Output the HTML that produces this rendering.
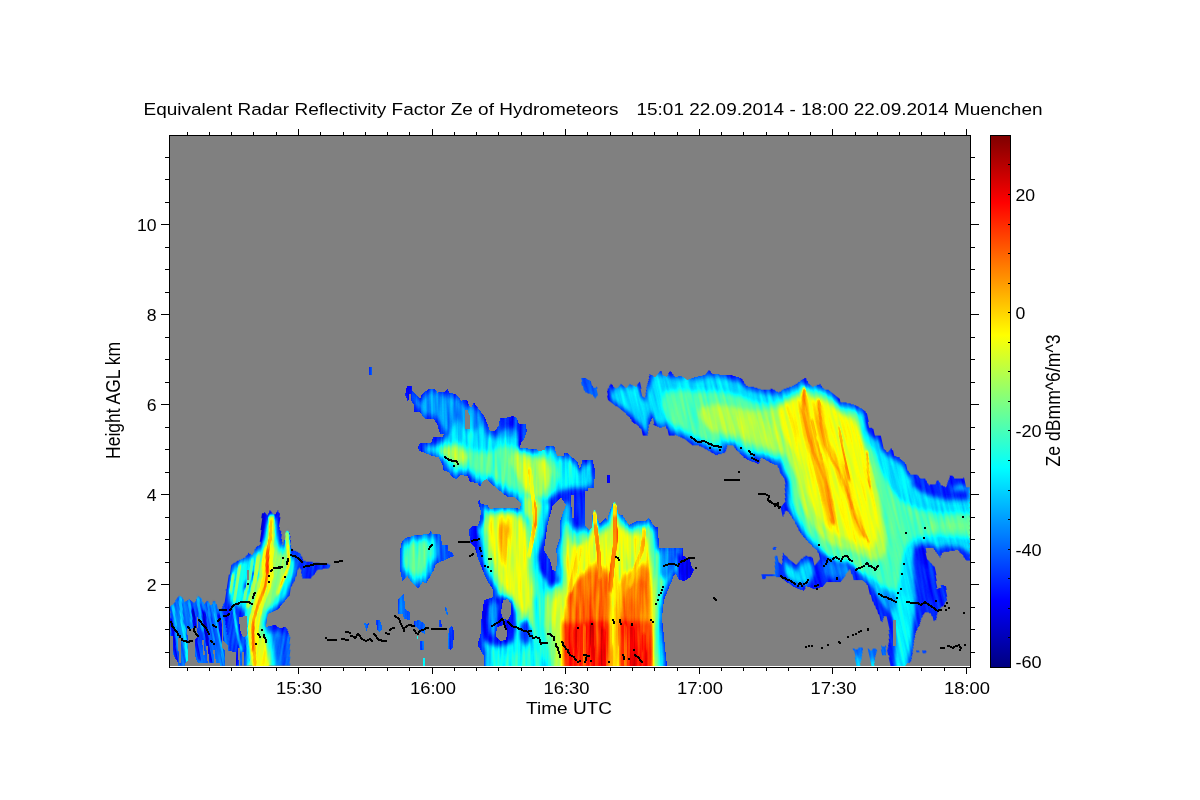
<!DOCTYPE html>
<html lang="en"><head><meta charset="utf-8"><title>Equivalent Radar Reflectivity Factor Ze of Hydrometeors</title>
<style>html,body{margin:0;padding:0;background:#fff}body{width:1200px;height:800px;overflow:hidden}svg{display:block}text{font-family:"Liberation Sans",Arial,Helvetica,sans-serif;fill:#000}</style>
</head><body>
<svg width="1200" height="800" viewBox="0 0 1200 800">
<defs>
<linearGradient id="jet" x1="0" y1="0" x2="0" y2="1"><stop offset="0.0000" stop-color="#800000"/><stop offset="0.0156" stop-color="#8f0000"/><stop offset="0.0312" stop-color="#9f0000"/><stop offset="0.0469" stop-color="#af0000"/><stop offset="0.0625" stop-color="#bf0000"/><stop offset="0.0781" stop-color="#cf0000"/><stop offset="0.0938" stop-color="#df0000"/><stop offset="0.1094" stop-color="#ef0000"/><stop offset="0.1250" stop-color="#ff0000"/><stop offset="0.1406" stop-color="#ff1000"/><stop offset="0.1562" stop-color="#ff2000"/><stop offset="0.1719" stop-color="#ff3000"/><stop offset="0.1875" stop-color="#ff4000"/><stop offset="0.2031" stop-color="#ff5000"/><stop offset="0.2188" stop-color="#ff6000"/><stop offset="0.2344" stop-color="#ff7000"/><stop offset="0.2500" stop-color="#ff8000"/><stop offset="0.2656" stop-color="#ff8f00"/><stop offset="0.2812" stop-color="#ff9f00"/><stop offset="0.2969" stop-color="#ffaf00"/><stop offset="0.3125" stop-color="#ffbf00"/><stop offset="0.3281" stop-color="#ffcf00"/><stop offset="0.3438" stop-color="#ffdf00"/><stop offset="0.3594" stop-color="#ffef00"/><stop offset="0.3750" stop-color="#ffff00"/><stop offset="0.3906" stop-color="#efff10"/><stop offset="0.4062" stop-color="#dfff20"/><stop offset="0.4219" stop-color="#cfff30"/><stop offset="0.4375" stop-color="#bfff40"/><stop offset="0.4531" stop-color="#afff50"/><stop offset="0.4688" stop-color="#9fff60"/><stop offset="0.4844" stop-color="#8fff70"/><stop offset="0.5000" stop-color="#80ff80"/><stop offset="0.5156" stop-color="#70ff8f"/><stop offset="0.5312" stop-color="#60ff9f"/><stop offset="0.5469" stop-color="#50ffaf"/><stop offset="0.5625" stop-color="#40ffbf"/><stop offset="0.5781" stop-color="#30ffcf"/><stop offset="0.5938" stop-color="#20ffdf"/><stop offset="0.6094" stop-color="#10ffef"/><stop offset="0.6250" stop-color="#00ffff"/><stop offset="0.6406" stop-color="#00efff"/><stop offset="0.6562" stop-color="#00dfff"/><stop offset="0.6719" stop-color="#00cfff"/><stop offset="0.6875" stop-color="#00bfff"/><stop offset="0.7031" stop-color="#00afff"/><stop offset="0.7188" stop-color="#009fff"/><stop offset="0.7344" stop-color="#008fff"/><stop offset="0.7500" stop-color="#0080ff"/><stop offset="0.7656" stop-color="#0070ff"/><stop offset="0.7812" stop-color="#0060ff"/><stop offset="0.7969" stop-color="#0050ff"/><stop offset="0.8125" stop-color="#0040ff"/><stop offset="0.8281" stop-color="#0030ff"/><stop offset="0.8438" stop-color="#0020ff"/><stop offset="0.8594" stop-color="#0010ff"/><stop offset="0.8750" stop-color="#0000ff"/><stop offset="0.8906" stop-color="#0000ef"/><stop offset="0.9062" stop-color="#0000df"/><stop offset="0.9219" stop-color="#0000cf"/><stop offset="0.9375" stop-color="#0000bf"/><stop offset="0.9531" stop-color="#0000af"/><stop offset="0.9688" stop-color="#00009f"/><stop offset="0.9844" stop-color="#00008f"/><stop offset="1.0000" stop-color="#000080"/></linearGradient>
<clipPath id="pc"><rect x="170" y="136" width="800" height="530"/></clipPath>
</defs>
<rect x="0" y="0" width="1200" height="800" fill="#fff"/>
<rect x="170" y="136" width="800" height="530" fill="#808080"/>
<g clip-path="url(#pc)" shape-rendering="crispEdges">
<filter id="bA" x="-300" y="100" width="1800" height="600" filterUnits="userSpaceOnUse" color-interpolation-filters="sRGB"><feGaussianBlur in="SourceGraphic" stdDeviation="1.8 2.8" result="b"/><feComponentTransfer in="b" result="c"><feFuncA type="linear" slope="60" intercept="0"/></feComponentTransfer><feComposite in="c" in2="SourceGraphic" operator="in"/></filter>
<filter id="bB" x="-300" y="100" width="1800" height="600" filterUnits="userSpaceOnUse" color-interpolation-filters="sRGB"><feGaussianBlur in="SourceGraphic" stdDeviation="0.7 1.6"/></filter>
<filter id="cm0" x="-300" y="100" width="1800" height="600" filterUnits="userSpaceOnUse" color-interpolation-filters="sRGB"><feTurbulence type="fractalNoise" baseFrequency="0.26 0.02" numOctaves="2" seed="7" result="t"/><feColorMatrix in="t" type="matrix" values="1 0 0 0 0 1 0 0 0 0 1 0 0 0 0 0 0 0 0 1" result="n"/><feComposite in="SourceGraphic" in2="n" operator="arithmetic" k1="0" k2="1" k3="0.14" k4="-0.07" result="s"/><feComposite in="s" in2="SourceGraphic" operator="in" result="s2"/><feComponentTransfer in="s2"><feFuncR type="table" tableValues="0 0 0 0 0.5 1 1 1 0.5"/><feFuncG type="table" tableValues="0 0 0.5 1 1 1 0.5 0 0"/><feFuncB type="table" tableValues="0.5 1 1 1 0.5 0 0 0 0"/></feComponentTransfer></filter>
<filter id="cm1" x="-300" y="100" width="1800" height="600" filterUnits="userSpaceOnUse" color-interpolation-filters="sRGB"><feTurbulence type="fractalNoise" baseFrequency="0.26 0.02" numOctaves="2" seed="7" result="t"/><feColorMatrix in="t" type="matrix" values="1 0 0 0 0 1 0 0 0 0 1 0 0 0 0 0 0 0 0 1" result="n"/><feComposite in="SourceGraphic" in2="n" operator="arithmetic" k1="0" k2="1" k3="0.2" k4="-0.1" result="s"/><feComposite in="s" in2="SourceGraphic" operator="in" result="s2"/><feComponentTransfer in="s2"><feFuncR type="table" tableValues="0 0 0 0 0.5 1 1 1 0.5"/><feFuncG type="table" tableValues="0 0 0.5 1 1 1 0.5 0 0"/><feFuncB type="table" tableValues="0.5 1 1 1 0.5 0 0 0 0"/></feComponentTransfer></filter>
<g transform="matrix(1 0 0.2 1 0 0)" filter="url(#cm1)">
<g filter="url(#bA)">
<polygon fill="#393939" points="36.8,666 48.6,607 53.4,603 58.6,597 60.8,596 62.6,597 64.6,602 66.8,601 69.7,599 71.8,601 73.2,604 76,600 79.3,596 81.4,598 83.2,604 85.6,602 87.3,601 88.4,603 89.8,606 92.6,602 94.3,601 95.4,603 96.8,611 100.4,608 103.4,603 106,600 109.6,612 110,630 112,640 106.8,666"/>
</g>
<g filter="url(#bB)" fill="none" stroke-linejoin="round" stroke-linecap="round">
<polyline stroke="#555555" stroke-width="3" points="60.4,598 58,620 57,645 54.8,666"/>
<polyline stroke="#5e5e5e" stroke-width="2.5" points="58.8,626 57,650 54.8,666"/>
<polyline stroke="#4f4f4f" stroke-width="3" points="78.4,598 77,615 77,630"/>
<polyline stroke="#4c4c4c" stroke-width="2.5" points="68.8,601 67.6,622"/>
<polyline stroke="#4c4c4c" stroke-width="2.5" points="87.4,603 86,620 86,640"/>
<polyline stroke="#4c4c4c" stroke-width="2.5" points="93.4,603 92,625 92,650 90.8,666"/>
<polyline stroke="#4c4c4c" stroke-width="2.5" points="51.8,606 50,630 48,650"/>
<polyline stroke="#1c1c1c" stroke-width="3" points="47,620 45,645 43.8,666"/>
<polyline stroke="#1c1c1c" stroke-width="3" points="71,610 68,640 68,660"/>
<polyline stroke="#1c1c1c" stroke-width="3" points="81.6,612 79,640 78.6,662"/>
<polyline stroke="#1c1c1c" stroke-width="3" points="96,615 94,640"/>
</g>
</g>
<g transform="matrix(1 0 -0.15 1 0 0)" filter="url(#cm1)">
<g filter="url(#bA)">
<polygon fill="#2a2a2a" points="315,600 314.5,590 314.65,581 315.8,572 316.6,564 321.65,561 328.62,557.5 331.7,553 335.75,555 338.05,547 341.75,545 340.5,530 339.1,514 341.27,512.5 344.9,516 346.5,510 350.1,514 352.25,515 354.5,510 357.25,515 358.75,529 360.65,531 363.15,541 364.9,546 365.7,538 366.59,530.6 370.1,534 373.12,547.5 375,550 382.95,553 387.9,561 402.45,563 415.26,564.4 415.2,568 403,570 400,575 396.85,579 389.35,579 386.5,570 383.88,567.5 382,580 379.12,587.5 379.25,595 369,610 360.1,614 360.05,627 363.9,626 368.75,625 374.2,628 380.05,627 385.4,636 389.9,666 331.9,666 324,640 315.8,612"/>
<polygon fill="#606060" points="318.7,598 317.6,584 319.2,568 324.45,563 331.85,559 338.8,552 344.2,548 343.5,530 343.7,518 353.7,518 356.8,532 360.75,545 366.2,548 367.4,536 371.2,548 373.4,556 379.3,562 380.1,574 376.9,586 375.4,596 367.05,607 359.65,611 357.75,625 362.8,632 379.1,634 383.75,645 386.9,666 343.9,666 334,640 324.25,615"/>
<polygon fill="#828282" points="342,600 341.75,585 343.5,570 345.4,556 346,540 345.6,524 352.3,522 357,540 360.8,552 367.4,556 368.75,545 373,560 373.8,572 370.6,584 366.4,596 360.9,606 355.8,612 355.75,625 362,640 368.25,655 371.9,666 347.9,666 345,640 343,620"/>
<polygon fill="#222222" points="331.45,583 334.15,581 336.9,586 335.65,591 332.5,590"/>
<polygon fill="#222222" points="337.95,573 342.65,571 345.4,576 343,580 338.7,578"/>
<polygon fill="#1c1c1c" points="339.1,514 341.27,512.5 344.4,516 345.5,530 345,540 342.75,545 340.5,530"/>
<polygon fill="#1c1c1c" points="352.25,515 354.5,510 357.25,515 358.75,529 355.3,522"/>
<polygon fill="#393939" points="367.1,634 385.4,636 389.9,666 375.9,666"/>
<polygon fill="#2d2d2d" points="316.3,602 326.6,604 337.8,612 345,640 346.9,666 331.9,666 324,640"/>
</g>
<g filter="url(#bB)" fill="none" stroke-linejoin="round" stroke-linecap="round">
<polyline stroke="#999999" stroke-width="6" points="349.2,518 352.05,537 351.7,548"/>
<polyline stroke="#9c9c9c" stroke-width="11" points="351.5,550 351.8,562 354.25,575 353.55,587 350.7,598 348.7,608 347.5,620 347.8,632 351.75,645 357.9,666"/>
<polyline stroke="#999999" stroke-width="6" points="358,640 362.25,655 365.9,666"/>
<polyline stroke="#b8b8b8" stroke-width="3.2" points="349.15,521 351.15,537 350.5,550 351.3,562 353.75,575 353.12,587.5 350.62,597.5 348.55,607 346.7,618 347,630 350.75,645 354.9,666"/>
<polyline stroke="#c9c9c9" stroke-width="3.2" points="350.5,550 351.3,562 353.3,572"/>
<polyline stroke="#c6c6c6" stroke-width="2.5" points="346.3,622 350.5,650"/>
<polyline stroke="#8e8e8e" stroke-width="4" points="366.95,533 370.5,550 372.75,560 372.5,570 370.62,577.5 368.12,587.5 366.45,593"/>
<polyline stroke="#aaaaaa" stroke-width="2" points="369.75,545 372.75,560 372.5,570 370.62,577.5 368.75,585"/>
<polyline stroke="#808080" stroke-width="3" points="324.9,566 324.75,585 324.3,602"/>
<polyline stroke="#808080" stroke-width="3" points="336,560 336,580 334,600"/>
<polyline stroke="#7a7a7a" stroke-width="3" points="319.25,575 319.8,592"/>
<polyline stroke="#888888" stroke-width="4" points="342.4,556 342.25,575 340.8,592 338.9,606"/>
<polyline stroke="#555555" stroke-width="2.5" points="323.6,604 329.75,625 338.5,650"/>
<polyline stroke="#555555" stroke-width="2.5" points="337.5,610 343,640 348.3,662"/>
</g>
</g>
<g transform="matrix(1 0 0 1 0 0)" filter="url(#cm1)">
<g filter="url(#bA)">
<polygon fill="#282828" points="405,395 407,386 412,386 412.5,391 417,396 420,399 422,394 429,389 435,389 437.5,392.5 445,392 447.5,389 449,392.5 455,394 459,397.5 461,400.6 467,400 469,405 471,408 474,402 476,405.6 480,410.6 484,416 487.5,424 490,431 495,431 499,425 500,418 505,418 512.5,416 517,418 519,424 525.6,424.4 527,431 524,439 521,443 520,448 536,449 540,452.5 544,451 546,445.6 554,445.6 556,452.5 557.5,456 564,456 564.4,453 567.5,453 572.5,457.5 577.5,462.5 580,469 582.5,460 592.5,460 595,470 594,487.5 588,488 587.5,490.6 584,491 585,500 585,526 589,530 592,527.5 592.5,515 594.6,510 597,517.5 600,524 605,518 607.5,520 609,513 612.5,504 614.6,502 617,506 618,514 622.5,515 625.6,520 629,525 632.5,523 637.5,521 646,520.6 648,518 650.6,520.6 654,526 658,527.5 659,547.5 682.5,547.5 683,556 690,559 691,565 694,570 690,577.5 684,581 679,580 676,574 674,575 672,581 669,587.5 664,600 662,618 667,666 484,666 484,656 481,651 477.5,645 480.6,633.5 481,621 483,613.5 488,608.5 493,606 492.5,588.5 489,583.5 485,576 481,566 477.5,557.5 475,547.5 470,542.5 469,530 472.5,526 477.5,526 480,520 481,511 478,502.5 479,499 481,504 487.5,505 490,509 499,507.5 512.5,507.5 520,509 521,504 515,497.5 507.5,497 497.5,489 490,482.5 485,477.5 480,487 477.5,483 470,482 467.5,476 460,475 456,479 451,476 449,472.5 443,470 442.5,465 439,457.5 432.5,456 425,453 419,451 418,447 420,443 431,443 433,437.5 443,437 444,434 440,434 437.5,425 434,419 425,419 420,412 414,412 414,405 411,400 407.5,400.6"/>
<polygon fill="#474747" points="410,390 414,397 420,403 424,397 430,392 444,395 456,398 462,404 468,408 474,407 480,414 485,422 489,434 496,436 503,430 512,428 518,432 518,440 516,446 500,446 480,440 460,434 446,432 440,422 436,416 426,415 418,408"/>
<polygon fill="#5b5b5b" points="423,447 434,446 445,440 452,428 458,418 466,432 476,430 482,424 487,436 495,440 503,438 512,436 518,440 517,446 519,451 538,452 546,449 553,449 558,459 566,457 574,463 580,472 584,464 591,464 592,485 584,488 572,488 562,490 556,494 548,500 540,503 528,502 520,500 512,494 504,492 496,485 488,478 482,482 474,479 468,473 460,472 454,474 447,468 444,460 436,454 426,451"/>
<polygon fill="#747474" points="438,449 448,444 458,443 466,448 478,452 490,452 502,446 514,446 524,452 536,455 548,456 556,464 560,475 556,488 548,497 540,500 530,498 522,494 512,488 502,484 492,476 480,474 468,468 456,466 448,460 441,455"/>
<polygon fill="#8b8b8b" points="441,450 449,446 458,446 464,452 470,458 464,462 455,462 447,458"/>
<polygon fill="#8b8b8b" points="512,452 522,454 534,458 546,460 552,470 550,484 544,494 536,498 528,494 522,486 516,474 510,462"/>
<polygon fill="#939393" points="520,462 528,460 534,466 536,480 533,492 527,492 522,480"/>
<polygon fill="#5e5e5e" points="522,494 540,498 550,504 547,518 545,530 542,548 541,562 546,578 550,590 540,596 528,590 524,570 523,545 522,520"/>
<polygon fill="#888888" points="524,496 538,499 541,505 539,520 535,540 532,556 530,570 525,570 524,545 523.5,520"/>
<polygon fill="#252525" points="541,545 546,530 548,518 553,506 561,497 564,500 558,510 552,522 550,535 547,550 552,562 554,572 559,573 560,580 552,583 545,579 539,569 538,556"/>
<polygon fill="#282828" points="562,491 585,491 585,526 574,527 571,510 566,505"/>
<polygon fill="#4c4c4c" points="563,503 570,503 573,527 565,530 562,520"/>
<polygon fill="#5b5b5b" points="482,507 488,510 500,510 514,510 522,512 530,520 534,540 536,560 540,580 542,600 540,630 536,655 534,666 490,666 487,655 484,645 486,630 487,618 494,610 496,590 492,582 488,574 484,564 481,555 478,545 474,540 473,532 476,529 481,527 484,518"/>
<polygon fill="#7d7d7d" points="486,513 500,512 514,512 523,516 529,526 532,545 534,565 538,585 538,610 534,630 528,640 520,630 512,612 504,598 498,590 493,578 489,566 486,552 484,540 483,528"/>
<polygon fill="#999999" points="490,516 502,514 514,515 521,520 526,532 528,550 529,568 532,586 531,604 526,616 520,610 514,598 506,590 500,582 496,570 492,555 489,540 488,526"/>
<polygon fill="#adadad" points="499,525 505,521 509,528 508,545 506,560 503,568 500,560 499,545"/>
<polygon fill="#222222" points="470,528 477,527 480,540 482,556 478,557 474,546 470,542"/>
<polygon fill="#252525" points="484,600 494,597 504,596 512,600 516,612 516,628 513,642 505,647 495,646 486,642 482,632 482,615"/>
<polygon fill="#3e3e3e" points="488,606 495,600 500,606 498,622 494,636 489,634 486,620"/>
<polygon fill="#5e5e5e" points="486,650 500,646 515,642 528,640 545,640 560,650 560,666 486,666"/>
<polygon fill="#666666" points="500,656 530,650 550,652 556,666 500,666"/>
<polygon fill="#333333" points="520,622 528,620 532,630 531,642 524,645 520,638"/>
<polygon fill="#555555" points="560,582 557,573 558,560 557,550 561,538 561,522 565,512 569,507 572,528 586,529 590,533 594,528 594.5,513 597,520 600,527 605,521 608,523 610,514 613,506 614.6,505 616,508 617,516 622,517 625,522 629,528 633,526 638,524 646,523.5 648,521 650,523.5 653,528.5 656,530 657,549 680,550 681,558 686,561 688,567 690,570 687,575 683,578 680,577 677,571 673,572 670,579 667,586 662,598 660.5,620 664.5,666 540,666 546,620 552,596"/>
<polygon fill="#777777" points="556,640 560,600 562,575 561,556 563,540 566,524 570,522 574,534 588,534 593,530 595,516 598,528 604,526 609,524 612,512 614.6,508 616,516 620,520 626,527 632,530 640,527 648,526 653,532 655,552 668,553 672,560 668,572 664,584 661,600 659,625 659,666 552,666"/>
<polygon fill="#999999" points="561,666 562,630 564,600 566,580 565,560 567,542 569,530 572,545 580,545 590,538 594,522 597,535 604,532 610,528 613,514 614.6,511 616,524 622,528 628,534 636,534 644,534 648,540 650,556 653,570 654,585 654,600 654,625 656,666"/>
<polygon fill="#666666" points="533,600 542,590 552,586 562,582 563,666 548,666 540,650 533,635"/>
<polygon fill="#808080" points="544,596 554,590 563,585 564,666 553,666 548,645 544,625"/>
<polygon fill="#969696" points="552,600 563,590 564,666 558,666 555,640 552,620"/>
<polygon fill="#b8b8b8" points="563,666 563,640 565,610 570,592 578,578 588,568 596,562 600,568 606,568 609,575 609,666"/>
<polygon fill="#b8b8b8" points="620,666 620,582 624,574 630,571 638,566 645,563 649,572 651,590 651,620 652,666"/>
<polygon fill="#a7a7a7" points="609,578 620,582 620,666 609,666"/>
<polygon fill="#c4c4c4" points="565,621 566,600 572,585 582,575 596,570 606,575 609,600 609,621"/>
<polygon fill="#c1c1c1" points="621,621 622,600 628,587 639,578 646,582 649,600 650,621"/>
<polygon fill="#d7d7d7" points="563,622 609,621 609,666 563,666"/>
<polygon fill="#d7d7d7" points="620,621 652,621 652,666 620,666"/>
<polygon fill="#b2b2b2" points="610,624 619,624 619,666 610,666"/>
<polygon fill="#3e3e3e" points="660,549 676,549 676,565 670,575 664,580 660,575"/>
<polygon fill="#1f1f1f" points="676,552 684,556 690,562 692,570 688,577 682,579 678,572"/>
<polygon fill="#333333" points="400,570 400.6,544 404,539 407.5,537.5 416,535 429,534 430.6,531 432.5,534 439,534 441,536 442,545 447.5,545 447.5,550 452.5,553 454,556 450,557.5 442.5,561 436,564 434,570 431,575 426,583.5 422.5,582 418,589 411,582 407.5,576 402.5,581"/>
<polygon fill="#5b5b5b" points="402,568 402.5,546 406,541 416,538 428,537 436,538 438,548 438,558 432,563 430,572 425,580 420,580 416,584 410,578 406,573"/>
<polygon fill="#747474" points="405,565 406,548 412,542 422,541 430,543 432,554 428,562 424,572 418,576 412,574 408,570"/>
<polygon fill="#333333" points="445,607 447,608 448,615 446,614"/>
<polygon fill="#333333" points="414,621 419,620 425,624 425,634 421,632 418,628 414,626"/>
<polygon fill="#333333" points="439,620 441,620 442,627 439,627"/>
<polygon fill="#2d2d2d" points="449,628 452,625 454,632 453,648 450,650 448,640"/>
<polygon fill="#393939" points="420,641 424,641 424,650 420,650"/>
<polygon fill="#5e5e5e" points="423,658 425,658 425,666 423,666"/>
<polygon fill="#282828" points="607,475 610,475 610,482.5 607,482.5"/>
<polygon fill="#2a2a2a" points="369,367 372,367 372,375 369,375"/>
<polygon fill="#393939" points="364,623 366.5,631 369,623 367,624"/>
<polygon fill="#393939" points="376,620 380,620 382.5,628 380,632 377,630"/>
<polygon fill="#393939" points="398,600 401,596 404,593 405,609 410,612 410,620 404,619 403,614 398,614"/>
<polygon fill="#5b5b5b" points="416.5,636 417.5,636 417.5,639 416.5,639"/>
<polygon fill="#333333" points="448,633 450,633 450,649 448,649"/>
</g>
<g filter="url(#bB)" fill="none" stroke-linejoin="round" stroke-linecap="round">
<polyline stroke="#a2a2a2" stroke-width="4" points="530,470 532,490 534,505 535,522 532,540 529,556"/>
<polyline stroke="#b8b8b8" stroke-width="2.2" points="535,502 536,512 535.5,527"/>
<polyline stroke="#a2a2a2" stroke-width="4" points="594.6,513 595.5,524"/>
<polyline stroke="#b8b8b8" stroke-width="4" points="595.5,526 597,540 599,555 600,577"/>
<polyline stroke="#a4a4a4" stroke-width="4" points="614.6,505 615,516"/>
<polyline stroke="#bebebe" stroke-width="4.5" points="615,518 615.6,540 612.5,565 610,590"/>
<polyline stroke="#a2a2a2" stroke-width="4" points="644,530 643.5,538"/>
<polyline stroke="#b2b2b2" stroke-width="4" points="643.5,540 642,550 636,566 630,585"/>
<polyline stroke="#a4a4a4" stroke-width="5" points="580,548 576,566 570,590"/>
<polyline stroke="#a7a7a7" stroke-width="6" points="614,596 615,625 615.5,645 616,666"/>
<polyline stroke="#e3e3e3" stroke-width="4" points="592,625 593,666"/>
<polyline stroke="#e3e3e3" stroke-width="5" points="603,630 604,666"/>
<polyline stroke="#e0e0e0" stroke-width="4" points="575,630 576,666"/>
<polyline stroke="#e3e3e3" stroke-width="5" points="632,628 633,666"/>
<polyline stroke="#e0e0e0" stroke-width="4" points="644,635 645,666"/>
<polyline stroke="#c4c4c4" stroke-width="3" points="584,625 585,666"/>
<polyline stroke="#c4c4c4" stroke-width="3" points="625,625 626,666"/>
<polyline stroke="#a2a2a2" stroke-width="4" points="618,560 616,585 614,605"/>
</g>
</g>
<g transform="matrix(1 0 0.22 1 0 0)" filter="url(#cm0)">
<g filter="url(#bA)">
<polygon fill="#393939" points="497.84,378 501.84,378 507.18,381 507.64,388 511.86,387 510.38,396 507.22,399 506.1,395 498.76,392 497.3,385"/>
<polygon fill="#282828" points="521.92,389 526.52,384 530.42,389 536.52,384 540.64,388 545.52,384 550.86,387 556.18,381 554.88,396 557.44,398 562.3,385 567.72,374 571.95,377.5 579.47,370.6 581.62,379 589.07,370.6 591.95,377.5 598.37,375.6 603.9,380 612.06,377 622.5,375 627.6,370 630.22,374 642.5,375 651.37,375.6 659.12,379 661.08,386 668.86,387 676.7,390 686.92,389 692.65,392.5 698.42,389 710.3,385 716.18,381 722.44,378 724.52,384 727.36,387 735.52,384 738.42,389 743.2,390 748.1,395 751.44,398 752.45,402.5 760.34,403 766.77,405.6 772.52,409 776.42,414 774.95,427.5 778.45,427.5 779.08,436 785.17,435.6 784.55,447.5 787.95,452.5 793.44,448 793.68,456 798.46,457 801.08,461 803.36,462 804.1,470 806.5,475 813,475 814.84,478 819.62,479 822.3,485 828.52,484 832.4,480 834.3,485 838.75,487.5 845.28,476 848,475 849.62,479 858.84,478 858.75,487.5 862.75,487.5 846.58,561 842.8,560 840.4,555 836.5,550 820.95,552.5 817.35,557.5 812.05,547.5 804.55,547.5 803.35,557.5 808.2,565 809.48,566 809.83,573.5 806.98,591 810.76,592 812.3,585 817.08,586 815,600 810.9,605 806.13,608.5 802.86,612 799.6,620 797.38,621 796.03,613.5 791.36,612 786.98,616 781.28,626 776.96,632 772.98,641 768.73,653.5 765.36,662 761.53,663.5 758.48,666 743.48,666 744.68,656 743.56,652 747.76,642 751.5,625 750.48,616 748.48,616 744.83,623.5 743.08,611 740.28,601 738.98,591 738.8,585 734.9,580 726.4,580 724.82,569 718.28,576 711.85,582.5 697.85,582.5 693.36,587 684.42,589 677.08,586 673.98,591 665.75,587.5 657.18,581 653.06,577 639.28,576 638.22,579 635.12,579 634.72,574 648.72,574 653.58,561 657.7,565 661.34,553 663.68,556 667.58,561 671.7,565 678.02,559 683.68,556 689.85,557.5 690.48,566 695.58,561 697.35,557.5 696.28,551 690.32,544 685.75,537.5 682.85,532.5 680.05,522.5 676.92,514 673.8,510 668.65,517.5 669.35,507.5 674.45,502.5 679.4,480 676.05,472.5 675.2,465 670.42,464 666.08,461 660.35,457.5 656.92,464 648.58,461 643.35,457.5 638.28,451 634.6,445 629.6,445 625.34,453 615.9,455 609.78,451 601.88,446 594.6,445 588.42,439 579.3,435 573.08,436 572.28,426 565.84,428 560.5,425 560.65,417.5 555.5,425 551.58,436 547.08,436 546.62,429 544,425 539.55,422.5 538.15,417.5 532.08,411 526.68,406 519.5,400"/>
<polygon fill="#585858" points="526.2,390 534.64,388 544.64,388 553.08,386 553.44,398 557.78,401 563.64,388 568.84,378 577.5,375 585.06,377 596.62,379 611.4,380 627.28,376 641.84,378 655.96,382 660.42,389 675.54,393 691.1,395 704.2,390 718.74,383 722.86,387 734.64,388 744.88,396 750.9,405 765.24,408 772.92,414 771.4,430 775.64,438 782.2,440 782,450 787.68,456 794.8,460 800.48,466 803.28,476 813.96,482 827.64,488 842.2,490 853.52,484 862.2,490 848.34,553 839.66,547 824.88,546 817.22,549 812.32,544 802.32,544 793.44,548 788.36,562 786.4,580 784.88,596 780.36,612 774.4,630 768.44,648 762.36,662 758.48,666 748.48,666 754.2,640 757.16,622 755.36,612 750.68,606 746.66,597 743.08,586 737.06,577 732.16,572 728.14,563 722.58,561 714.58,561 707.24,558 702.12,554 698.78,551 692.54,543 687.3,535 682.72,524 678.92,514 676.68,506 682.4,480 679.16,472 678.36,462 669.02,459 659.9,455 649.46,457 642.56,452 636.54,443 628.54,443 622.78,451 613.22,449 604.54,443 595.98,441 590.08,436 580.96,432 574.96,432 573.94,423 566.5,425 562.38,421 561.36,412 555.6,420 550.96,432 548.96,432 548.28,426 543.38,421 539.92,414 534.24,408 528.34,403 523.44,398"/>
<polygon fill="#747474" points="577.76,392 594.2,390 613.76,392 633.76,392 652.88,396 663.56,402 677.12,404 691.56,402 705.1,395 718.86,387 725.76,392 735.76,392 744,400 752.02,409 765.36,412 769.6,420 767.52,434 770.32,444 775,450 776.36,462 779.28,476 784.2,490 791.56,502 807.8,510 831.92,514 856.92,514 851.64,538 832.08,536 812.3,535 797.64,538 785.88,546 778.8,560 772.84,578 765.76,592 758.64,588 751.52,584 744.84,578 738.16,572 731.04,568 724.36,562 714.36,562 705.68,556 701.44,548 695.2,540 690.96,532 687.16,522 683.36,512 682,500 685.4,480 682.6,470 681.24,458 669.9,455 655.78,451 645.44,448 639.2,440 627.2,440 614.32,444 603.64,438 592.96,432 584.28,426 576.72,424 574.04,418 572.9,405"/>
<polygon fill="#8b8b8b" points="610.24,408 626.12,404 640.68,406 657.8,410 674.8,410 690.68,406 704.22,399 717.54,393 724.66,397 734.66,397 742.9,405 750.92,414 762.26,417 765.5,425 763.2,440 767,450 768.36,462 769.84,478 770.88,496 770.48,516 769.08,536 764.56,552 756.8,560 746.8,560 738.12,554 729,550 719.44,548 710.32,544 703.86,537 697.84,528 694.04,518 690.68,506 688.32,494 690.84,478 689.04,468 685.9,455 673,450 659.88,446 648.76,442 642.08,436 628.52,434 616.96,432 610.72,424 607.7,415"/>
<polygon fill="#7d7d7d" points="815.6,520 835.38,521 853.16,522 850.96,532 833.18,531 813.4,530"/>
<polygon fill="#9c9c9c" points="693.12,404 705.22,399 717.32,394 724.22,399 734,400 742.68,406 750.92,414 759.6,420 763.84,428 765.2,440 766.56,452 767.48,466 766.3,485 765.12,504 763.16,522 758.2,540 751,550 741.44,548 732.76,542 723.64,538 716.52,534 710.06,527 704.26,517 700.9,505 698.98,491 699.28,476 697.92,464 694.56,452 689.2,440 686.28,426 687.36,412"/>
<polygon fill="#909090" points="643.04,418 658.48,416 672.6,420 680.84,428 683.2,440 672.32,444 659.2,440 648.52,434 641.84,428"/>
<polygon fill="#b0b0b0" points="714.76,392 721.76,392 716.5,425 720.36,462 722.44,498 721.16,522 714.72,524 712,500 711.04,468 707.96,432 708.8,410"/>
<polygon fill="#adadad" points="727.56,402 733.56,402 731.2,440 739.7,465 743.76,492 748.3,535 741.64,538 736,500 730.6,470 723.88,446 723.5,425"/>
<polygon fill="#b5b5b5" points="714.36,462 722.8,460 724.4,480 722.9,505 716.24,508 714.2,490"/>
<polygon fill="#5e5e5e" points="765.44,598 773.32,594 779,600 775.6,620 769.2,640 761.8,660 753.48,666 754,650 760.5,625"/>
<polygon fill="#444444" points="750.2,590 759.76,592 764,600 759.36,612 753.8,610 750,600"/>
<polygon fill="#222222" points="794.88,546 804.88,546 804.24,558 805.48,566 797.48,566 794.24,558"/>
<polygon fill="#282828" points="800.2,590 816.86,587 815,600 806.24,608 799.36,612 797.12,604"/>
<polygon fill="#282828" points="806.84,478 823.08,486 842.2,490 860.2,490 858,500 835,500 816.32,494 805.08,486"/>
<polygon fill="#282828" points="695.58,561 701.24,558 703.48,566 698.16,572 694.6,570"/>
<polygon fill="#414141" points="700.36,562 708.36,562 717.92,564 725.48,566 722.16,572 714.84,578 700.84,578 698.16,572"/>
<polygon fill="#555555" points="660.36,562 665.48,566 670.6,570 677.92,564 684.8,560 687.92,564 687.72,574 681.96,582 675.52,584 669.52,584 662.4,580 658.72,574"/>
<polygon fill="#393939" points="710.44,648 713,650 716.44,648 720.44,648 717.68,656 713.48,666 709.48,666 710.68,656"/>
<polygon fill="#5b5b5b" points="712.68,656 714.68,656 712.98,666 709.98,666"/>
<polygon fill="#393939" points="725.44,648 727.78,651 731.44,648 734,650 730.24,658 727.48,666 724.48,666 725.46,657"/>
<polygon fill="#5b5b5b" points="726.74,658 728.74,658 727.48,666 724.48,666"/>
<polygon fill="#393939" points="739.1,645 741.66,647 744.1,645 741.9,655 737.9,655"/>
<polygon fill="#333333" points="773,650 776,650 775.45,652.5 772.45,652.5"/>
<polygon fill="#333333" points="779.28,651 783,650 782.34,653 778.62,654"/>
<polygon fill="#333333" points="652.66,547 655.66,547 655,550 652,550"/>
<polygon fill="#393939" points="652.68,556 654.68,556 655.48,566 653.28,576 648.28,576"/>
<polygon fill="#333333" points="634.72,574 639.32,574 638.22,579 634.62,579"/>
</g>
<g filter="url(#bB)" fill="none" stroke-linejoin="round" stroke-linecap="round">
<polyline stroke="#bbbbbb" stroke-width="3.2" points="718.92,389 712.36,412 712.4,430 713.56,452 716.48,466 719.4,480 718.66,497 718.36,512 717.94,523"/>
<polyline stroke="#b8b8b8" stroke-width="2.8" points="730.78,401 727.5,425 727.32,444 730.8,460 735.6,470 738.08,486 740,500 741.82,519 746.08,536"/>
<polyline stroke="#b5b5b5" stroke-width="2.4" points="744.95,427.5 744,450 743.7,465 743.4,480"/>
<polyline stroke="#b0b0b0" stroke-width="2.5" points="767.56,452 764.6,470 762.86,487"/>
<polyline stroke="#b0b0b0" stroke-width="2.5" points="719.6,420 719.2,440 720.8,460"/>
<polyline stroke="#b2b2b2" stroke-width="2.5" points="741.58,511 745.28,526 749.76,542"/>
</g>
</g>
<g fill="#808080" stroke="none">
<polygon points="239,617 247,616 247,636 243,637 240,630"/>
<polygon points="246.5,570 248.5,570 248.5,580 246.5,580"/>
<polygon points="170,636 173,636 173.5,655 178,663 178,666 170,666"/>
<polyline fill="none" stroke="#808080" stroke-width="2.5" points="179.5,638 180,663"/>
<polygon points="187,629 197,628 198,637 194.5,640 194.5,655 198,663 202,663 202,666 185,666 185,663 188.5,660 188,640"/>
<polygon points="202,663 220,663 220,666 202,666"/>
<polygon points="221.7,620 223.2,620 223.5,641 227.5,645 228,651 236,652 236,666 225,666 225,651 222.5,648 222,641"/>
<polyline fill="none" stroke="#808080" stroke-width="1.5" points="197.3,617 197.3,628"/>
<polyline fill="none" stroke="#808080" stroke-width="1.6" points="207,646 208.5,663"/>
<polyline fill="none" stroke="#808080" stroke-width="1.6" points="214,650 215,663"/>
<polyline fill="none" stroke="#808080" stroke-width="1.6" points="203,640 204,655"/>
<polyline fill="none" stroke="#808080" stroke-width="1.6" points="239,648 239.5,666"/>
<polyline fill="none" stroke="#808080" stroke-width="1.6" points="243,652 243,666"/>
<polygon points="290,595 277.5,610 268,614 266,627 275,624.5 286,626.5 291,636 292,600"/>
<polygon points="561,497.5 552.5,506 547.5,525 544,550 550,560 552.5,570 555.6,571 557.5,560 556,550 560,537.5 560,521 564,510 566,505"/>
<polygon points="571,495 574,495 574,518 572,518"/>
<polygon points="465,410 467.5,410 470.5,418 469.5,429 464.5,429"/>
<polygon points="409,394 411,394 411,400 409,400"/>
<polygon points="503,600 508,599 511,604 511,614 508,620 503,619 501,612"/>
<polygon points="497,627 504,625 507.5,630 506,640 500,641 496,636"/>
<polygon points="893,620 895.5,620 896,646 893.5,646"/>
</g>
<g fill="#000">
<rect x="170" y="621" width="2" height="2"/>
<rect x="171" y="623" width="2" height="2"/>
<rect x="171" y="625" width="2" height="2"/>
<rect x="172" y="626" width="2" height="2"/>
<rect x="173" y="627" width="2" height="2"/>
<rect x="174" y="629" width="2" height="2"/>
<rect x="175" y="630" width="2" height="2"/>
<rect x="176" y="631" width="2" height="2"/>
<rect x="177" y="633" width="2" height="2"/>
<rect x="177" y="634" width="2" height="2"/>
<rect x="179" y="635" width="2" height="2"/>
<rect x="179" y="636" width="2" height="2"/>
<rect x="181" y="638" width="2" height="2"/>
<rect x="181" y="639" width="2" height="2"/>
<rect x="183" y="640" width="2" height="2"/>
<rect x="185" y="640" width="2" height="2"/>
<rect x="186" y="641" width="2" height="2"/>
<rect x="188" y="641" width="2" height="2"/>
<rect x="189" y="640" width="2" height="2"/>
<rect x="191" y="640" width="2" height="2"/>
<rect x="187" y="626" width="2" height="2"/>
<rect x="188" y="627" width="2" height="2"/>
<rect x="189" y="629" width="2" height="2"/>
<rect x="194" y="626" width="2" height="2"/>
<rect x="193" y="628" width="2" height="2"/>
<rect x="193" y="630" width="2" height="2"/>
<rect x="194" y="631" width="2" height="2"/>
<rect x="195" y="633" width="2" height="2"/>
<rect x="196" y="634" width="2" height="2"/>
<rect x="197" y="635" width="2" height="2"/>
<rect x="198" y="619" width="2" height="2"/>
<rect x="199" y="620" width="2" height="2"/>
<rect x="200" y="621" width="2" height="2"/>
<rect x="201" y="623" width="2" height="2"/>
<rect x="202" y="624" width="2" height="2"/>
<rect x="203" y="625" width="2" height="2"/>
<rect x="204" y="626" width="2" height="2"/>
<rect x="205" y="627" width="2" height="2"/>
<rect x="206" y="629" width="2" height="2"/>
<rect x="207" y="631" width="2" height="2"/>
<rect x="208" y="633" width="2" height="2"/>
<rect x="210" y="640" width="2" height="2"/>
<rect x="211" y="641" width="2" height="2"/>
<rect x="213" y="643" width="2" height="2"/>
<rect x="212" y="624" width="2" height="2"/>
<rect x="213" y="625" width="2" height="2"/>
<rect x="215" y="626" width="2" height="2"/>
<rect x="217" y="620" width="2" height="2"/>
<rect x="218" y="619" width="2" height="2"/>
<rect x="219" y="618" width="2" height="2"/>
<rect x="223" y="615" width="2" height="2"/>
<rect x="225" y="615" width="2" height="2"/>
<rect x="227" y="614" width="2" height="2"/>
<rect x="228" y="613" width="2" height="2"/>
<rect x="219" y="609" width="2" height="2"/>
<rect x="221" y="609" width="2" height="2"/>
<rect x="222" y="609" width="2" height="2"/>
<rect x="223" y="609" width="2" height="2"/>
<rect x="225" y="609" width="2" height="2"/>
<rect x="229" y="609" width="2" height="2"/>
<rect x="230" y="608" width="2" height="2"/>
<rect x="231" y="606" width="2" height="2"/>
<rect x="232" y="605" width="2" height="2"/>
<rect x="233" y="604" width="2" height="2"/>
<rect x="235" y="603" width="2" height="2"/>
<rect x="237" y="603" width="2" height="2"/>
<rect x="238" y="602" width="2" height="2"/>
<rect x="240" y="601" width="2" height="2"/>
<rect x="241" y="601" width="2" height="2"/>
<rect x="243" y="601" width="2" height="2"/>
<rect x="245" y="601" width="2" height="2"/>
<rect x="247" y="601" width="2" height="2"/>
<rect x="248" y="601" width="2" height="2"/>
<rect x="249" y="602" width="2" height="2"/>
<rect x="251" y="603" width="2" height="2"/>
<rect x="252" y="597" width="2" height="2"/>
<rect x="252" y="596" width="2" height="2"/>
<rect x="253" y="594" width="2" height="2"/>
<rect x="253" y="593" width="2" height="2"/>
<rect x="254" y="592" width="2" height="2"/>
<rect x="268" y="581" width="2" height="2"/>
<rect x="268" y="575" width="2" height="2"/>
<rect x="270" y="570" width="2" height="2"/>
<rect x="271" y="569" width="2" height="2"/>
<rect x="273" y="567" width="2" height="2"/>
<rect x="275" y="567" width="2" height="2"/>
<rect x="277" y="567" width="2" height="2"/>
<rect x="278" y="566" width="2" height="2"/>
<rect x="280" y="566" width="2" height="2"/>
<rect x="284" y="576" width="2" height="2"/>
<rect x="247" y="583" width="2" height="2"/>
<rect x="261" y="629" width="2" height="2"/>
<rect x="257" y="633" width="2" height="2"/>
<rect x="258" y="634" width="2" height="2"/>
<rect x="259" y="636" width="2" height="2"/>
<rect x="263" y="634" width="2" height="2"/>
<rect x="263" y="636" width="2" height="2"/>
<rect x="264" y="637" width="2" height="2"/>
<rect x="265" y="639" width="2" height="2"/>
<rect x="265" y="641" width="2" height="2"/>
<rect x="255" y="643" width="2" height="2"/>
<rect x="291" y="549" width="2" height="2"/>
<rect x="290" y="554" width="2" height="2"/>
<rect x="292" y="555" width="2" height="2"/>
<rect x="294" y="555" width="2" height="2"/>
<rect x="295" y="556" width="2" height="2"/>
<rect x="297" y="557" width="2" height="2"/>
<rect x="298" y="558" width="2" height="2"/>
<rect x="299" y="559" width="2" height="2"/>
<rect x="300" y="560" width="2" height="2"/>
<rect x="301" y="561" width="2" height="2"/>
<rect x="282" y="557" width="2" height="2"/>
<rect x="287" y="558" width="2" height="2"/>
<rect x="287" y="560" width="2" height="2"/>
<rect x="286" y="561" width="2" height="2"/>
<rect x="286" y="563" width="2" height="2"/>
<rect x="303" y="566" width="2" height="2"/>
<rect x="305" y="565" width="2" height="2"/>
<rect x="307" y="565" width="2" height="2"/>
<rect x="308" y="565" width="2" height="2"/>
<rect x="310" y="564" width="2" height="2"/>
<rect x="312" y="564" width="2" height="2"/>
<rect x="313" y="563" width="2" height="2"/>
<rect x="315" y="563" width="2" height="2"/>
<rect x="317" y="563" width="2" height="2"/>
<rect x="318" y="563" width="2" height="2"/>
<rect x="320" y="563" width="2" height="2"/>
<rect x="322" y="563" width="2" height="2"/>
<rect x="323" y="563" width="2" height="2"/>
<rect x="325" y="563" width="2" height="2"/>
<rect x="334" y="561" width="2" height="2"/>
<rect x="336" y="561" width="2" height="2"/>
<rect x="337" y="561" width="2" height="2"/>
<rect x="339" y="560" width="2" height="2"/>
<rect x="341" y="560" width="2" height="2"/>
<rect x="279" y="567" width="2" height="2"/>
<rect x="281" y="566" width="2" height="2"/>
<rect x="325" y="637" width="2" height="2"/>
<rect x="327" y="639" width="2" height="2"/>
<rect x="329" y="639" width="2" height="2"/>
<rect x="331" y="639" width="2" height="2"/>
<rect x="333" y="639" width="2" height="2"/>
<rect x="335" y="639" width="2" height="2"/>
<rect x="341" y="638" width="2" height="2"/>
<rect x="343" y="638" width="2" height="2"/>
<rect x="345" y="639" width="2" height="2"/>
<rect x="347" y="639" width="2" height="2"/>
<rect x="345" y="631" width="2" height="2"/>
<rect x="347" y="631" width="2" height="2"/>
<rect x="349" y="632" width="2" height="2"/>
<rect x="350" y="635" width="2" height="2"/>
<rect x="351" y="635" width="2" height="2"/>
<rect x="353" y="636" width="2" height="2"/>
<rect x="354" y="637" width="2" height="2"/>
<rect x="355" y="636" width="2" height="2"/>
<rect x="356" y="634" width="2" height="2"/>
<rect x="357" y="633" width="2" height="2"/>
<rect x="358" y="634" width="2" height="2"/>
<rect x="359" y="635" width="2" height="2"/>
<rect x="360" y="637" width="2" height="2"/>
<rect x="361" y="638" width="2" height="2"/>
<rect x="363" y="639" width="2" height="2"/>
<rect x="365" y="640" width="2" height="2"/>
<rect x="367" y="639" width="2" height="2"/>
<rect x="369" y="638" width="2" height="2"/>
<rect x="370" y="639" width="2" height="2"/>
<rect x="371" y="640" width="2" height="2"/>
<rect x="373" y="633" width="2" height="2"/>
<rect x="374" y="634" width="2" height="2"/>
<rect x="375" y="635" width="2" height="2"/>
<rect x="376" y="637" width="2" height="2"/>
<rect x="377" y="638" width="2" height="2"/>
<rect x="378" y="639" width="2" height="2"/>
<rect x="380" y="639" width="2" height="2"/>
<rect x="381" y="640" width="2" height="2"/>
<rect x="383" y="640" width="2" height="2"/>
<rect x="385" y="640" width="2" height="2"/>
<rect x="385" y="632" width="2" height="2"/>
<rect x="387" y="633" width="2" height="2"/>
<rect x="388" y="633" width="2" height="2"/>
<rect x="389" y="629" width="2" height="2"/>
<rect x="390" y="628" width="2" height="2"/>
<rect x="392" y="627" width="2" height="2"/>
<rect x="393" y="627" width="2" height="2"/>
<rect x="394" y="615" width="2" height="2"/>
<rect x="395" y="616" width="2" height="2"/>
<rect x="397" y="617" width="2" height="2"/>
<rect x="398" y="618" width="2" height="2"/>
<rect x="399" y="620" width="2" height="2"/>
<rect x="399" y="621" width="2" height="2"/>
<rect x="400" y="623" width="2" height="2"/>
<rect x="401" y="625" width="2" height="2"/>
<rect x="402" y="627" width="2" height="2"/>
<rect x="403" y="628" width="2" height="2"/>
<rect x="403" y="630" width="2" height="2"/>
<rect x="403" y="627" width="2" height="2"/>
<rect x="405" y="626" width="2" height="2"/>
<rect x="406" y="625" width="2" height="2"/>
<rect x="408" y="624" width="2" height="2"/>
<rect x="410" y="624" width="2" height="2"/>
<rect x="411" y="625" width="2" height="2"/>
<rect x="413" y="625" width="2" height="2"/>
<rect x="413" y="629" width="2" height="2"/>
<rect x="414" y="630" width="2" height="2"/>
<rect x="415" y="632" width="2" height="2"/>
<rect x="417" y="633" width="2" height="2"/>
<rect x="418" y="631" width="2" height="2"/>
<rect x="419" y="630" width="2" height="2"/>
<rect x="421" y="629" width="2" height="2"/>
<rect x="422" y="629" width="2" height="2"/>
<rect x="424" y="628" width="2" height="2"/>
<rect x="425" y="627" width="2" height="2"/>
<rect x="427" y="627" width="2" height="2"/>
<rect x="431" y="628" width="2" height="2"/>
<rect x="433" y="628" width="2" height="2"/>
<rect x="435" y="628" width="2" height="2"/>
<rect x="436" y="628" width="2" height="2"/>
<rect x="438" y="628" width="2" height="2"/>
<rect x="440" y="628" width="2" height="2"/>
<rect x="441" y="628" width="2" height="2"/>
<rect x="443" y="628" width="2" height="2"/>
<rect x="445" y="628" width="2" height="2"/>
<rect x="444" y="456" width="2" height="2"/>
<rect x="445" y="457" width="2" height="2"/>
<rect x="447" y="458" width="2" height="2"/>
<rect x="448" y="459" width="2" height="2"/>
<rect x="450" y="459" width="2" height="2"/>
<rect x="451" y="460" width="2" height="2"/>
<rect x="453" y="460" width="2" height="2"/>
<rect x="455" y="460" width="2" height="2"/>
<rect x="456" y="461" width="2" height="2"/>
<rect x="457" y="463" width="2" height="2"/>
<rect x="453" y="465" width="2" height="2"/>
<rect x="428" y="548" width="2" height="2"/>
<rect x="429" y="546" width="2" height="2"/>
<rect x="430" y="545" width="2" height="2"/>
<rect x="431" y="544" width="2" height="2"/>
<rect x="458" y="541" width="2" height="2"/>
<rect x="460" y="541" width="2" height="2"/>
<rect x="462" y="541" width="2" height="2"/>
<rect x="463" y="541" width="2" height="2"/>
<rect x="465" y="541" width="2" height="2"/>
<rect x="466" y="541" width="2" height="2"/>
<rect x="468" y="541" width="2" height="2"/>
<rect x="471" y="540" width="2" height="2"/>
<rect x="473" y="539" width="2" height="2"/>
<rect x="475" y="539" width="2" height="2"/>
<rect x="476" y="539" width="2" height="2"/>
<rect x="478" y="538" width="2" height="2"/>
<rect x="479" y="547" width="2" height="2"/>
<rect x="479" y="548" width="2" height="2"/>
<rect x="480" y="550" width="2" height="2"/>
<rect x="469" y="555" width="2" height="2"/>
<rect x="471" y="554" width="2" height="2"/>
<rect x="472" y="553" width="2" height="2"/>
<rect x="481" y="555" width="2" height="2"/>
<rect x="488" y="558" width="2" height="2"/>
<rect x="490" y="558" width="2" height="2"/>
<rect x="484" y="565" width="2" height="2"/>
<rect x="487" y="566" width="2" height="2"/>
<rect x="490" y="570" width="2" height="2"/>
<rect x="491" y="625" width="2" height="2"/>
<rect x="493" y="624" width="2" height="2"/>
<rect x="494" y="623" width="2" height="2"/>
<rect x="496" y="622" width="2" height="2"/>
<rect x="498" y="621" width="2" height="2"/>
<rect x="499" y="620" width="2" height="2"/>
<rect x="500" y="619" width="2" height="2"/>
<rect x="501" y="618" width="2" height="2"/>
<rect x="502" y="619" width="2" height="2"/>
<rect x="503" y="621" width="2" height="2"/>
<rect x="503" y="623" width="2" height="2"/>
<rect x="504" y="625" width="2" height="2"/>
<rect x="504" y="626" width="2" height="2"/>
<rect x="505" y="628" width="2" height="2"/>
<rect x="507" y="621" width="2" height="2"/>
<rect x="508" y="622" width="2" height="2"/>
<rect x="509" y="623" width="2" height="2"/>
<rect x="510" y="624" width="2" height="2"/>
<rect x="511" y="625" width="2" height="2"/>
<rect x="513" y="626" width="2" height="2"/>
<rect x="515" y="626" width="2" height="2"/>
<rect x="517" y="627" width="2" height="2"/>
<rect x="518" y="628" width="2" height="2"/>
<rect x="520" y="628" width="2" height="2"/>
<rect x="521" y="629" width="2" height="2"/>
<rect x="523" y="630" width="2" height="2"/>
<rect x="525" y="630" width="2" height="2"/>
<rect x="527" y="631" width="2" height="2"/>
<rect x="528" y="630" width="2" height="2"/>
<rect x="530" y="630" width="2" height="2"/>
<rect x="528" y="633" width="2" height="2"/>
<rect x="529" y="635" width="2" height="2"/>
<rect x="531" y="635" width="2" height="2"/>
<rect x="532" y="637" width="2" height="2"/>
<rect x="533" y="637" width="2" height="2"/>
<rect x="535" y="636" width="2" height="2"/>
<rect x="537" y="637" width="2" height="2"/>
<rect x="538" y="637" width="2" height="2"/>
<rect x="539" y="639" width="2" height="2"/>
<rect x="539" y="641" width="2" height="2"/>
<rect x="540" y="643" width="2" height="2"/>
<rect x="541" y="642" width="2" height="2"/>
<rect x="543" y="642" width="2" height="2"/>
<rect x="545" y="642" width="2" height="2"/>
<rect x="546" y="642" width="2" height="2"/>
<rect x="547" y="633" width="2" height="2"/>
<rect x="549" y="633" width="2" height="2"/>
<rect x="550" y="634" width="2" height="2"/>
<rect x="551" y="635" width="2" height="2"/>
<rect x="553" y="636" width="2" height="2"/>
<rect x="553" y="637" width="2" height="2"/>
<rect x="553" y="639" width="2" height="2"/>
<rect x="555" y="643" width="2" height="2"/>
<rect x="555" y="645" width="2" height="2"/>
<rect x="556" y="646" width="2" height="2"/>
<rect x="557" y="647" width="2" height="2"/>
<rect x="557" y="649" width="2" height="2"/>
<rect x="558" y="651" width="2" height="2"/>
<rect x="558" y="652" width="2" height="2"/>
<rect x="559" y="654" width="2" height="2"/>
<rect x="559" y="656" width="2" height="2"/>
<rect x="561" y="641" width="2" height="2"/>
<rect x="562" y="642" width="2" height="2"/>
<rect x="562" y="644" width="2" height="2"/>
<rect x="563" y="645" width="2" height="2"/>
<rect x="564" y="646" width="2" height="2"/>
<rect x="565" y="648" width="2" height="2"/>
<rect x="567" y="649" width="2" height="2"/>
<rect x="567" y="651" width="2" height="2"/>
<rect x="568" y="652" width="2" height="2"/>
<rect x="569" y="654" width="2" height="2"/>
<rect x="571" y="655" width="2" height="2"/>
<rect x="573" y="656" width="2" height="2"/>
<rect x="574" y="658" width="2" height="2"/>
<rect x="575" y="659" width="2" height="2"/>
<rect x="577" y="661" width="2" height="2"/>
<rect x="579" y="660" width="2" height="2"/>
<rect x="583" y="654" width="2" height="2"/>
<rect x="585" y="654" width="2" height="2"/>
<rect x="586" y="655" width="2" height="2"/>
<rect x="588" y="655" width="2" height="2"/>
<rect x="585" y="657" width="2" height="2"/>
<rect x="585" y="659" width="2" height="2"/>
<rect x="584" y="661" width="2" height="2"/>
<rect x="590" y="660" width="2" height="2"/>
<rect x="577" y="627" width="2" height="2"/>
<rect x="591" y="623" width="2" height="2"/>
<rect x="612" y="619" width="2" height="2"/>
<rect x="613" y="621" width="2" height="2"/>
<rect x="613" y="622" width="2" height="2"/>
<rect x="619" y="619" width="2" height="2"/>
<rect x="619" y="621" width="2" height="2"/>
<rect x="620" y="623" width="2" height="2"/>
<rect x="631" y="623" width="2" height="2"/>
<rect x="631" y="624" width="2" height="2"/>
<rect x="650" y="619" width="2" height="2"/>
<rect x="652" y="621" width="2" height="2"/>
<rect x="608" y="661" width="2" height="2"/>
<rect x="622" y="654" width="2" height="2"/>
<rect x="623" y="656" width="2" height="2"/>
<rect x="623" y="658" width="2" height="2"/>
<rect x="628" y="658" width="2" height="2"/>
<rect x="633" y="649" width="2" height="2"/>
<rect x="634" y="654" width="2" height="2"/>
<rect x="635" y="655" width="2" height="2"/>
<rect x="637" y="656" width="2" height="2"/>
<rect x="638" y="657" width="2" height="2"/>
<rect x="639" y="659" width="2" height="2"/>
<rect x="640" y="660" width="2" height="2"/>
<rect x="641" y="661" width="2" height="2"/>
<rect x="662" y="586" width="2" height="2"/>
<rect x="661" y="589" width="2" height="2"/>
<rect x="660" y="592" width="2" height="2"/>
<rect x="658" y="594" width="2" height="2"/>
<rect x="657" y="599" width="2" height="2"/>
<rect x="655" y="603" width="2" height="2"/>
<rect x="615" y="556" width="2" height="2"/>
<rect x="617" y="557" width="2" height="2"/>
<rect x="618" y="559" width="2" height="2"/>
<rect x="663" y="565" width="2" height="2"/>
<rect x="665" y="564" width="2" height="2"/>
<rect x="666" y="564" width="2" height="2"/>
<rect x="668" y="563" width="2" height="2"/>
<rect x="670" y="563" width="2" height="2"/>
<rect x="671" y="563" width="2" height="2"/>
<rect x="673" y="563" width="2" height="2"/>
<rect x="675" y="564" width="2" height="2"/>
<rect x="677" y="565" width="2" height="2"/>
<rect x="678" y="563" width="2" height="2"/>
<rect x="680" y="561" width="2" height="2"/>
<rect x="681" y="560" width="2" height="2"/>
<rect x="683" y="560" width="2" height="2"/>
<rect x="684" y="559" width="2" height="2"/>
<rect x="686" y="558" width="2" height="2"/>
<rect x="688" y="557" width="2" height="2"/>
<rect x="690" y="557" width="2" height="2"/>
<rect x="691" y="557" width="2" height="2"/>
<rect x="693" y="557" width="2" height="2"/>
<rect x="695" y="567" width="2" height="2"/>
<rect x="713" y="597" width="2" height="2"/>
<rect x="714" y="598" width="2" height="2"/>
<rect x="715" y="599" width="2" height="2"/>
<rect x="690" y="436" width="2" height="2"/>
<rect x="691" y="437" width="2" height="2"/>
<rect x="693" y="438" width="2" height="2"/>
<rect x="694" y="439" width="2" height="2"/>
<rect x="695" y="440" width="2" height="2"/>
<rect x="697" y="441" width="2" height="2"/>
<rect x="698" y="441" width="2" height="2"/>
<rect x="700" y="441" width="2" height="2"/>
<rect x="701" y="440" width="2" height="2"/>
<rect x="703" y="440" width="2" height="2"/>
<rect x="705" y="441" width="2" height="2"/>
<rect x="707" y="442" width="2" height="2"/>
<rect x="708" y="443" width="2" height="2"/>
<rect x="710" y="443" width="2" height="2"/>
<rect x="711" y="444" width="2" height="2"/>
<rect x="713" y="445" width="2" height="2"/>
<rect x="715" y="445" width="2" height="2"/>
<rect x="717" y="445" width="2" height="2"/>
<rect x="718" y="446" width="2" height="2"/>
<rect x="720" y="446" width="2" height="2"/>
<rect x="709" y="447" width="2" height="2"/>
<rect x="719" y="449" width="2" height="2"/>
<rect x="740" y="447" width="2" height="2"/>
<rect x="748" y="450" width="2" height="2"/>
<rect x="749" y="451" width="2" height="2"/>
<rect x="750" y="453" width="2" height="2"/>
<rect x="751" y="453" width="2" height="2"/>
<rect x="753" y="454" width="2" height="2"/>
<rect x="751" y="457" width="2" height="2"/>
<rect x="753" y="458" width="2" height="2"/>
<rect x="755" y="459" width="2" height="2"/>
<rect x="757" y="460" width="2" height="2"/>
<rect x="738" y="471" width="2" height="2"/>
<rect x="724" y="479" width="2" height="2"/>
<rect x="726" y="479" width="2" height="2"/>
<rect x="727" y="479" width="2" height="2"/>
<rect x="729" y="479" width="2" height="2"/>
<rect x="730" y="479" width="2" height="2"/>
<rect x="732" y="479" width="2" height="2"/>
<rect x="733" y="479" width="2" height="2"/>
<rect x="735" y="479" width="2" height="2"/>
<rect x="736" y="479" width="2" height="2"/>
<rect x="738" y="479" width="2" height="2"/>
<rect x="758" y="493" width="2" height="2"/>
<rect x="759" y="493" width="2" height="2"/>
<rect x="761" y="493" width="2" height="2"/>
<rect x="763" y="493" width="2" height="2"/>
<rect x="764" y="493" width="2" height="2"/>
<rect x="766" y="494" width="2" height="2"/>
<rect x="768" y="495" width="2" height="2"/>
<rect x="768" y="496" width="2" height="2"/>
<rect x="767" y="498" width="2" height="2"/>
<rect x="767" y="499" width="2" height="2"/>
<rect x="769" y="500" width="2" height="2"/>
<rect x="770" y="501" width="2" height="2"/>
<rect x="771" y="502" width="2" height="2"/>
<rect x="773" y="503" width="2" height="2"/>
<rect x="774" y="505" width="2" height="2"/>
<rect x="775" y="503" width="2" height="2"/>
<rect x="777" y="502" width="2" height="2"/>
<rect x="777" y="503" width="2" height="2"/>
<rect x="777" y="505" width="2" height="2"/>
<rect x="778" y="507" width="2" height="2"/>
<rect x="818" y="544" width="2" height="2"/>
<rect x="780" y="575" width="2" height="2"/>
<rect x="781" y="576" width="2" height="2"/>
<rect x="782" y="577" width="2" height="2"/>
<rect x="784" y="577" width="2" height="2"/>
<rect x="785" y="578" width="2" height="2"/>
<rect x="787" y="579" width="2" height="2"/>
<rect x="788" y="579" width="2" height="2"/>
<rect x="790" y="580" width="2" height="2"/>
<rect x="791" y="581" width="2" height="2"/>
<rect x="793" y="582" width="2" height="2"/>
<rect x="794" y="583" width="2" height="2"/>
<rect x="797" y="585" width="2" height="2"/>
<rect x="798" y="583" width="2" height="2"/>
<rect x="799" y="582" width="2" height="2"/>
<rect x="800" y="583" width="2" height="2"/>
<rect x="801" y="585" width="2" height="2"/>
<rect x="803" y="583" width="2" height="2"/>
<rect x="805" y="582" width="2" height="2"/>
<rect x="806" y="581" width="2" height="2"/>
<rect x="807" y="579" width="2" height="2"/>
<rect x="814" y="585" width="2" height="2"/>
<rect x="815" y="585" width="2" height="2"/>
<rect x="817" y="584" width="2" height="2"/>
<rect x="816" y="588" width="2" height="2"/>
<rect x="836" y="578" width="2" height="2"/>
<rect x="823" y="565" width="2" height="2"/>
<rect x="825" y="563" width="2" height="2"/>
<rect x="826" y="561" width="2" height="2"/>
<rect x="826" y="560" width="2" height="2"/>
<rect x="827" y="558" width="2" height="2"/>
<rect x="829" y="559" width="2" height="2"/>
<rect x="830" y="560" width="2" height="2"/>
<rect x="832" y="558" width="2" height="2"/>
<rect x="833" y="557" width="2" height="2"/>
<rect x="835" y="556" width="2" height="2"/>
<rect x="836" y="557" width="2" height="2"/>
<rect x="838" y="558" width="2" height="2"/>
<rect x="840" y="560" width="2" height="2"/>
<rect x="841" y="558" width="2" height="2"/>
<rect x="842" y="556" width="2" height="2"/>
<rect x="844" y="555" width="2" height="2"/>
<rect x="846" y="555" width="2" height="2"/>
<rect x="847" y="556" width="2" height="2"/>
<rect x="848" y="558" width="2" height="2"/>
<rect x="849" y="559" width="2" height="2"/>
<rect x="851" y="560" width="2" height="2"/>
<rect x="855" y="569" width="2" height="2"/>
<rect x="856" y="568" width="2" height="2"/>
<rect x="858" y="567" width="2" height="2"/>
<rect x="859" y="567" width="2" height="2"/>
<rect x="861" y="566" width="2" height="2"/>
<rect x="863" y="565" width="2" height="2"/>
<rect x="865" y="563" width="2" height="2"/>
<rect x="866" y="562" width="2" height="2"/>
<rect x="867" y="563" width="2" height="2"/>
<rect x="868" y="565" width="2" height="2"/>
<rect x="870" y="565" width="2" height="2"/>
<rect x="871" y="566" width="2" height="2"/>
<rect x="873" y="567" width="2" height="2"/>
<rect x="874" y="569" width="2" height="2"/>
<rect x="875" y="568" width="2" height="2"/>
<rect x="876" y="566" width="2" height="2"/>
<rect x="877" y="565" width="2" height="2"/>
<rect x="878" y="593" width="2" height="2"/>
<rect x="880" y="594" width="2" height="2"/>
<rect x="881" y="595" width="2" height="2"/>
<rect x="883" y="596" width="2" height="2"/>
<rect x="885" y="596" width="2" height="2"/>
<rect x="887" y="597" width="2" height="2"/>
<rect x="888" y="598" width="2" height="2"/>
<rect x="890" y="598" width="2" height="2"/>
<rect x="891" y="599" width="2" height="2"/>
<rect x="893" y="600" width="2" height="2"/>
<rect x="895" y="601" width="2" height="2"/>
<rect x="896" y="597" width="2" height="2"/>
<rect x="897" y="592" width="2" height="2"/>
<rect x="900" y="588" width="2" height="2"/>
<rect x="867" y="628" width="2" height="2"/>
<rect x="836" y="577" width="2" height="2"/>
<rect x="901" y="573" width="2" height="2"/>
<rect x="903" y="563" width="2" height="2"/>
<rect x="906" y="601" width="2" height="2"/>
<rect x="908" y="601" width="2" height="2"/>
<rect x="910" y="602" width="2" height="2"/>
<rect x="911" y="602" width="2" height="2"/>
<rect x="913" y="602" width="2" height="2"/>
<rect x="915" y="602" width="2" height="2"/>
<rect x="917" y="602" width="2" height="2"/>
<rect x="918" y="603" width="2" height="2"/>
<rect x="920" y="604" width="2" height="2"/>
<rect x="921" y="603" width="2" height="2"/>
<rect x="923" y="602" width="2" height="2"/>
<rect x="924" y="601" width="2" height="2"/>
<rect x="925" y="602" width="2" height="2"/>
<rect x="927" y="603" width="2" height="2"/>
<rect x="928" y="604" width="2" height="2"/>
<rect x="930" y="605" width="2" height="2"/>
<rect x="931" y="606" width="2" height="2"/>
<rect x="933" y="607" width="2" height="2"/>
<rect x="934" y="608" width="2" height="2"/>
<rect x="935" y="609" width="2" height="2"/>
<rect x="937" y="610" width="2" height="2"/>
<rect x="938" y="609" width="2" height="2"/>
<rect x="940" y="609" width="2" height="2"/>
<rect x="935" y="600" width="2" height="2"/>
<rect x="946" y="602" width="2" height="2"/>
<rect x="944" y="605" width="2" height="2"/>
<rect x="948" y="607" width="2" height="2"/>
<rect x="945" y="609" width="2" height="2"/>
<rect x="963" y="612" width="2" height="2"/>
<rect x="962" y="516" width="2" height="2"/>
<rect x="924" y="527" width="2" height="2"/>
<rect x="905" y="532" width="2" height="2"/>
<rect x="923" y="537" width="2" height="2"/>
<rect x="805" y="646" width="2" height="2"/>
<rect x="808" y="645" width="2" height="2"/>
<rect x="811" y="645" width="2" height="2"/>
<rect x="821" y="647" width="2" height="2"/>
<rect x="827" y="644" width="2" height="2"/>
<rect x="838" y="641" width="2" height="2"/>
<rect x="839" y="642" width="2" height="2"/>
<rect x="847" y="636" width="2" height="2"/>
<rect x="852" y="634" width="2" height="2"/>
<rect x="855" y="633" width="2" height="2"/>
<rect x="858" y="631" width="2" height="2"/>
<rect x="860" y="630" width="2" height="2"/>
<rect x="867" y="629" width="2" height="2"/>
<rect x="940" y="647" width="2" height="2"/>
<rect x="941" y="647" width="2" height="2"/>
<rect x="943" y="647" width="2" height="2"/>
<rect x="947" y="645" width="2" height="2"/>
<rect x="948" y="645" width="2" height="2"/>
<rect x="950" y="646" width="2" height="2"/>
<rect x="952" y="647" width="2" height="2"/>
<rect x="953" y="646" width="2" height="2"/>
<rect x="955" y="645" width="2" height="2"/>
<rect x="956" y="645" width="2" height="2"/>
<rect x="958" y="644" width="2" height="2"/>
<rect x="959" y="646" width="2" height="2"/>
<rect x="960" y="647" width="2" height="2"/>
<rect x="959" y="649" width="2" height="2"/>
<rect x="964" y="644" width="2" height="2"/>
<rect x="768" y="500" width="2" height="2"/>
<rect x="769" y="501" width="2" height="2"/>
<rect x="775" y="504" width="2" height="2"/>
<rect x="779" y="506" width="2" height="2"/>
</g>
</g>
<rect x="170" y="666" width="800" height="1" fill="#fff"/>
<g fill="#000" shape-rendering="crispEdges">
<rect x="169" y="135" width="802" height="1"/>
<rect x="169" y="667" width="802" height="1"/>
<rect x="169" y="135" width="1" height="533"/>
<rect x="970" y="135" width="1" height="533"/>
<rect x="187" y="668" width="1" height="3"/>
<rect x="187" y="132" width="1" height="3"/>
<rect x="209" y="668" width="1" height="3"/>
<rect x="209" y="132" width="1" height="3"/>
<rect x="231" y="668" width="1" height="3"/>
<rect x="231" y="132" width="1" height="3"/>
<rect x="253" y="668" width="1" height="3"/>
<rect x="253" y="132" width="1" height="3"/>
<rect x="276" y="668" width="1" height="3"/>
<rect x="276" y="132" width="1" height="3"/>
<rect x="298" y="668" width="1" height="6"/>
<rect x="298" y="129" width="1" height="6"/>
<rect x="320" y="668" width="1" height="3"/>
<rect x="320" y="132" width="1" height="3"/>
<rect x="343" y="668" width="1" height="3"/>
<rect x="343" y="132" width="1" height="3"/>
<rect x="365" y="668" width="1" height="3"/>
<rect x="365" y="132" width="1" height="3"/>
<rect x="387" y="668" width="1" height="3"/>
<rect x="387" y="132" width="1" height="3"/>
<rect x="409" y="668" width="1" height="3"/>
<rect x="409" y="132" width="1" height="3"/>
<rect x="432" y="668" width="1" height="6"/>
<rect x="432" y="129" width="1" height="6"/>
<rect x="454" y="668" width="1" height="3"/>
<rect x="454" y="132" width="1" height="3"/>
<rect x="476" y="668" width="1" height="3"/>
<rect x="476" y="132" width="1" height="3"/>
<rect x="498" y="668" width="1" height="3"/>
<rect x="498" y="132" width="1" height="3"/>
<rect x="521" y="668" width="1" height="3"/>
<rect x="521" y="132" width="1" height="3"/>
<rect x="543" y="668" width="1" height="3"/>
<rect x="543" y="132" width="1" height="3"/>
<rect x="565" y="668" width="1" height="6"/>
<rect x="565" y="129" width="1" height="6"/>
<rect x="587" y="668" width="1" height="3"/>
<rect x="587" y="132" width="1" height="3"/>
<rect x="610" y="668" width="1" height="3"/>
<rect x="610" y="132" width="1" height="3"/>
<rect x="632" y="668" width="1" height="3"/>
<rect x="632" y="132" width="1" height="3"/>
<rect x="654" y="668" width="1" height="3"/>
<rect x="654" y="132" width="1" height="3"/>
<rect x="677" y="668" width="1" height="3"/>
<rect x="677" y="132" width="1" height="3"/>
<rect x="699" y="668" width="1" height="6"/>
<rect x="699" y="129" width="1" height="6"/>
<rect x="721" y="668" width="1" height="3"/>
<rect x="721" y="132" width="1" height="3"/>
<rect x="743" y="668" width="1" height="3"/>
<rect x="743" y="132" width="1" height="3"/>
<rect x="766" y="668" width="1" height="3"/>
<rect x="766" y="132" width="1" height="3"/>
<rect x="788" y="668" width="1" height="3"/>
<rect x="788" y="132" width="1" height="3"/>
<rect x="810" y="668" width="1" height="3"/>
<rect x="810" y="132" width="1" height="3"/>
<rect x="832" y="668" width="1" height="6"/>
<rect x="832" y="129" width="1" height="6"/>
<rect x="855" y="668" width="1" height="3"/>
<rect x="855" y="132" width="1" height="3"/>
<rect x="877" y="668" width="1" height="3"/>
<rect x="877" y="132" width="1" height="3"/>
<rect x="899" y="668" width="1" height="3"/>
<rect x="899" y="132" width="1" height="3"/>
<rect x="921" y="668" width="1" height="3"/>
<rect x="921" y="132" width="1" height="3"/>
<rect x="944" y="668" width="1" height="3"/>
<rect x="944" y="132" width="1" height="3"/>
<rect x="966" y="668" width="1" height="6"/>
<rect x="966" y="129" width="1" height="6"/>
<rect x="165" y="652" width="4" height="1"/>
<rect x="971" y="652" width="4" height="1"/>
<rect x="165" y="629" width="4" height="1"/>
<rect x="971" y="629" width="4" height="1"/>
<rect x="165" y="607" width="4" height="1"/>
<rect x="971" y="607" width="4" height="1"/>
<rect x="161" y="584" width="8" height="1"/>
<rect x="971" y="584" width="8" height="1"/>
<rect x="165" y="562" width="4" height="1"/>
<rect x="971" y="562" width="4" height="1"/>
<rect x="165" y="539" width="4" height="1"/>
<rect x="971" y="539" width="4" height="1"/>
<rect x="165" y="517" width="4" height="1"/>
<rect x="971" y="517" width="4" height="1"/>
<rect x="161" y="494" width="8" height="1"/>
<rect x="971" y="494" width="8" height="1"/>
<rect x="165" y="472" width="4" height="1"/>
<rect x="971" y="472" width="4" height="1"/>
<rect x="165" y="449" width="4" height="1"/>
<rect x="971" y="449" width="4" height="1"/>
<rect x="165" y="427" width="4" height="1"/>
<rect x="971" y="427" width="4" height="1"/>
<rect x="161" y="404" width="8" height="1"/>
<rect x="971" y="404" width="8" height="1"/>
<rect x="165" y="382" width="4" height="1"/>
<rect x="971" y="382" width="4" height="1"/>
<rect x="165" y="359" width="4" height="1"/>
<rect x="971" y="359" width="4" height="1"/>
<rect x="165" y="337" width="4" height="1"/>
<rect x="971" y="337" width="4" height="1"/>
<rect x="161" y="314" width="8" height="1"/>
<rect x="971" y="314" width="8" height="1"/>
<rect x="165" y="292" width="4" height="1"/>
<rect x="971" y="292" width="4" height="1"/>
<rect x="165" y="269" width="4" height="1"/>
<rect x="971" y="269" width="4" height="1"/>
<rect x="165" y="247" width="4" height="1"/>
<rect x="971" y="247" width="4" height="1"/>
<rect x="161" y="224" width="8" height="1"/>
<rect x="971" y="224" width="8" height="1"/>
<rect x="165" y="202" width="4" height="1"/>
<rect x="971" y="202" width="4" height="1"/>
<rect x="165" y="179" width="4" height="1"/>
<rect x="971" y="179" width="4" height="1"/>
<rect x="165" y="157" width="4" height="1"/>
<rect x="971" y="157" width="4" height="1"/>
</g>
<rect x="990" y="135" width="21" height="533" fill="#000" shape-rendering="crispEdges"/>
<rect x="991" y="136" width="19" height="531" fill="url(#jet)" shape-rendering="crispEdges"/>
<g fill="#000" shape-rendering="crispEdges">
<rect x="1008" y="637" width="2" height="1"/>
<rect x="1008" y="608" width="2" height="1"/>
<rect x="1008" y="578" width="2" height="1"/>
<rect x="1008" y="549" width="2" height="1"/>
<rect x="1008" y="519" width="2" height="1"/>
<rect x="1008" y="490" width="2" height="1"/>
<rect x="1008" y="460" width="2" height="1"/>
<rect x="1008" y="430" width="2" height="1"/>
<rect x="1008" y="401" width="2" height="1"/>
<rect x="1008" y="371" width="2" height="1"/>
<rect x="1008" y="342" width="2" height="1"/>
<rect x="1008" y="312" width="2" height="1"/>
<rect x="1008" y="283" width="2" height="1"/>
<rect x="1008" y="253" width="2" height="1"/>
<rect x="1008" y="224" width="2" height="1"/>
<rect x="1008" y="194" width="2" height="1"/>
<rect x="1008" y="164" width="2" height="1"/>
</g>
<text x="143.5" y="114.5" font-size="17.4" text-anchor="start" textLength="475" lengthAdjust="spacingAndGlyphs">Equivalent Radar Reflectivity Factor Ze of Hydrometeors</text>
<text x="636.5" y="114.5" font-size="17.4" text-anchor="start" textLength="406" lengthAdjust="spacingAndGlyphs">15:01 22.09.2014 - 18:00 22.09.2014 Muenchen</text>
<text x="299" y="694" font-size="17.4" text-anchor="middle" textLength="46" lengthAdjust="spacingAndGlyphs">15:30</text>
<text x="433" y="694" font-size="17.4" text-anchor="middle" textLength="46" lengthAdjust="spacingAndGlyphs">16:00</text>
<text x="566.5" y="694" font-size="17.4" text-anchor="middle" textLength="46" lengthAdjust="spacingAndGlyphs">16:30</text>
<text x="700" y="694" font-size="17.4" text-anchor="middle" textLength="46" lengthAdjust="spacingAndGlyphs">17:00</text>
<text x="833.5" y="694" font-size="17.4" text-anchor="middle" textLength="46" lengthAdjust="spacingAndGlyphs">17:30</text>
<text x="967" y="694" font-size="17.4" text-anchor="middle" textLength="46" lengthAdjust="spacingAndGlyphs">18:00</text>
<text x="569" y="714" font-size="17.4" text-anchor="middle" textLength="86" lengthAdjust="spacingAndGlyphs">Time UTC</text>
<text x="156.5" y="230.8" font-size="17.4" text-anchor="end" textLength="19.6" lengthAdjust="spacingAndGlyphs">10</text>
<text x="156.5" y="320.8" font-size="17.4" text-anchor="end" textLength="9.8" lengthAdjust="spacingAndGlyphs">8</text>
<text x="156.5" y="410.8" font-size="17.4" text-anchor="end" textLength="9.8" lengthAdjust="spacingAndGlyphs">6</text>
<text x="156.5" y="500.8" font-size="17.4" text-anchor="end" textLength="9.8" lengthAdjust="spacingAndGlyphs">4</text>
<text x="156.5" y="590.8" font-size="17.4" text-anchor="end" textLength="9.8" lengthAdjust="spacingAndGlyphs">2</text>
<text x="1015.5" y="200.8" font-size="17.4" text-anchor="start" textLength="19.6" lengthAdjust="spacingAndGlyphs">20</text>
<text x="1015.5" y="318.8" font-size="17.4" text-anchor="start" textLength="9.8" lengthAdjust="spacingAndGlyphs">0</text>
<text x="1015.5" y="436.8" font-size="17.4" text-anchor="start" textLength="26.200000000000003" lengthAdjust="spacingAndGlyphs">-20</text>
<text x="1015.5" y="555.8" font-size="17.4" text-anchor="start" textLength="26.200000000000003" lengthAdjust="spacingAndGlyphs">-40</text>
<text x="1015.5" y="667.8" font-size="17.4" text-anchor="start" textLength="26.200000000000003" lengthAdjust="spacingAndGlyphs">-60</text>
<g transform="translate(119.8,400.5) scale(1.12,1) rotate(-90)"><text x="0" y="0" font-size="17.4" text-anchor="middle" textLength="117" lengthAdjust="spacingAndGlyphs">Height AGL km</text></g>
<g transform="translate(1059.6,400.5) scale(1.12,1) rotate(-90)"><text x="0" y="0" font-size="17.4" text-anchor="middle" textLength="132" lengthAdjust="spacingAndGlyphs">Ze dBmm^6/m^3</text></g>
</svg>
</body></html>
